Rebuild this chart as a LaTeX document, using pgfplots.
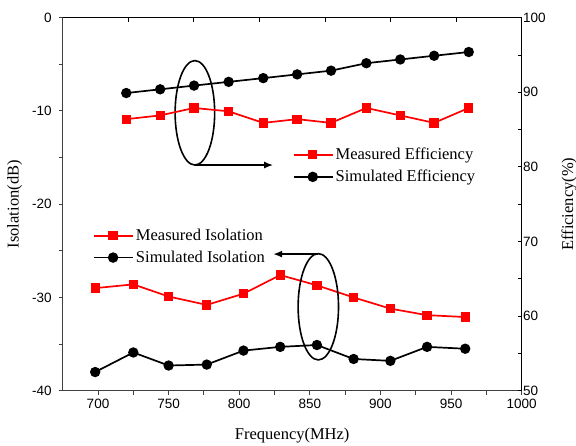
\documentclass[border=0pt]{standalone}
\usepackage{fontspec}
\setmainfont{Liberation Serif}
\setsansfont{Liberation Sans}
\usepackage{pgfplots}
\pgfplotsset{compat=1.18}
\usetikzlibrary{arrows.meta}
\definecolor{isored}{HTML}{FF0000}

\tikzset{annot/.style={black,line width=1.6pt}}
\pgfplotsset{
  common/.style={
    width=459pt,height=373pt,scale only axis,
    xmin=675,xmax=1000,
    tick label style={font=\sffamily\fontsize{13.5}{15}\selectfont},
    label style={font=\fontsize{16.5}{19}\selectfont},
    /pgf/number format/assume math mode=true,
    /pgf/number format/1000 sep={},
    major tick length=4pt,minor tick length=4pt,
    legend style={draw=none,fill=none,font=\fontsize{16.5}{19}\selectfont,
      row sep=5pt,inner sep=0pt,
      /tikz/every even column/.append style={column sep=0pt}},
    legend cell align={left},
    legend image code/.code={
      \draw[line width=1.8pt,mark repeat=2,mark phase=2] plot coordinates {(0pt,0pt) (19pt,0pt) (39pt,0pt)};
    },
  },
  meas/.style={isored,line width=1.7pt,mark=square*,mark size=3.8pt,mark options={solid}},
  sim/.style={black,line width=1.7pt,mark=*,mark size=4.3pt,mark options={solid}},
}

\begin{document}
\begin{tikzpicture}
% left axis: isolation
\begin{axis}[common,name=ax,
  ymin=-40,ymax=0,
  ytick={-40,-30,-20,-10,0},
  minor ytick={-35,-25,-15,-5},
  xtick={700,750,...,1000},
  minor xtick={725,775,...,975},
  axis y line*=left,
  axis x line*=bottom,
  tick align=outside,
  axis line style={black!75,line width=1.4pt},
  every tick/.style={black!75,line width=0.9pt},
  yticklabel style={xshift=-3.5pt},
  xticklabel style={yshift=-1pt},
  ylabel={Isolation(dB)},
  xlabel={Frequency(MHz)},
  ylabel style={at={(axis description cs:-0.1046,0.5)},anchor=center},
  xlabel style={at={(axis description cs:0.5,-0.119)},anchor=center},
  legend style={at={(axis description cs:0.066,0.439)},anchor=north west},
]
\addplot[meas] coordinates {
  (698,-29.0) (725,-28.6) (750,-29.9) (777,-30.8) (803,-29.6) (829,-27.6)
  (855,-28.7) (881,-30.0) (907,-31.2) (933,-31.9) (960,-32.1)};
\addplot[sim] coordinates {
  (698,-38.0) (725,-35.9) (750,-37.3) (777,-37.2) (803,-35.7) (829,-35.3)
  (855,-35.1) (881,-36.6) (907,-36.8) (933,-35.3) (960,-35.5)};
\legend{Measured Isolation,Simulated Isolation}
% annotations
\draw[annot] (axis cs:768.6,-10.2) ellipse [x radius=14,y radius=5.6];
\draw[annot,-{Latex[length=9pt,width=7pt]}] (axis cs:768.6,-15.8) -- (axis cs:824,-15.8);
\draw[annot] (axis cs:856,-31.0) ellipse [x radius=14.3,y radius=5.7];
\draw[annot,-{Latex[length=9pt,width=7pt]}] (axis cs:856,-25.35) -- (axis cs:824,-25.35);
\end{axis}
% right axis: efficiency
\begin{axis}[common,
  ymin=50,ymax=100,
  ytick={50,60,...,100},
  minor ytick={55,65,...,95},
  axis y line*=right,
  axis x line*=top,
  xtick={721.43,767.86,814.29,860.71,907.14,953.57},
  xticklabels={},
  tick align=inside,
  axis line style={black,line width=1.1pt},
  every tick/.style={black,line width=0.9pt},
  yticklabel style={xshift=-2pt},
  ylabel={Efficiency(\%)},
  ylabel style={at={(axis description cs:1.103,0.5)},anchor=center},
  legend style={at={(axis description cs:0.501,0.656)},anchor=north west},
]
\addplot[meas] coordinates {
  (720,86.4) (744,86.9) (768,87.9) (792.5,87.45) (817,85.9) (841,86.4)
  (865,85.9) (890,87.9) (914,86.9) (938,85.9) (962.5,87.9)};
\addplot[sim] coordinates {
  (720,89.9) (744,90.4) (768,90.9) (792.5,91.4) (817,91.9) (841,92.4)
  (865,92.9) (890,93.9) (914,94.4) (938,94.9) (962.5,95.4)};
\legend{Measured Efficiency,Simulated Efficiency}
\end{axis}
\pgfresetboundingbox
\path[use as bounding box] ([shift={(-62.7pt,-55.3pt)}]ax.south west) rectangle ([shift={(54.3pt,17.7pt)}]ax.north east);
\end{tikzpicture}
\end{document}
